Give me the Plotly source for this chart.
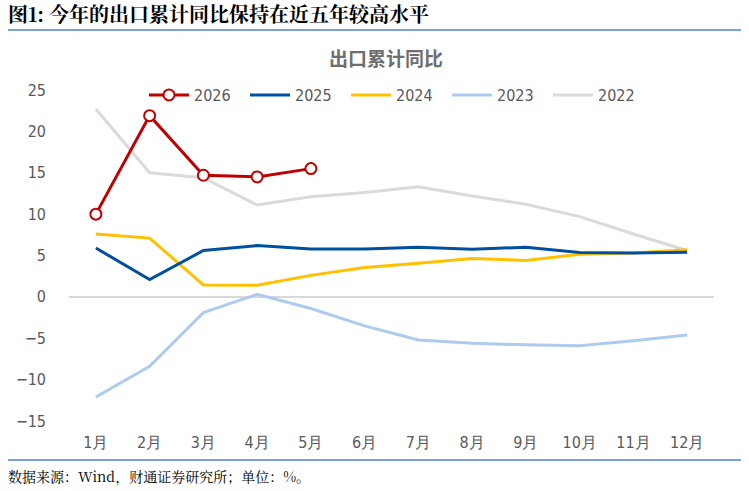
import plotly.graph_objects as go

months = ["1月", "2月", "3月", "4月", "5月", "6月", "7月", "8月", "9月", "10月", "11月", "12月"]
y2026 = [10.0, 21.9, 14.7, 14.5, 15.5]
y2025 = [5.9, 2.1, 5.6, 6.2, 5.8, 5.8, 6.0, 5.75, 6.0, 5.35, 5.3, 5.4]
y2024 = [7.6, 7.1, 1.45, 1.4, 2.6, 3.55, 4.05, 4.65, 4.4, 5.15, 5.3, 5.7]
y2023 = [-12.1, -8.4, -1.9, 0.3, -1.4, -3.5, -5.2, -5.6, -5.8, -5.9, -5.3, -4.6]
y2022 = [22.7, 15.0, 14.4, 11.1, 12.1, 12.6, 13.3, 12.2, 11.2, 9.7, 7.6, 5.6]
yticks = [-15, -10, -5, 0, 5, 10, 15, 20, 25]

W, H = 749, 491
L, R, T, B = 69, 35, 90, 70
ph = H - T - B
pw = W - L - R

fig = go.Figure()
fig.add_trace(go.Scatter(x=months, y=y2022, name="2022", mode="lines", line=dict(color="#D9DADC", width=3)))
fig.add_trace(go.Scatter(x=months, y=y2023, name="2023", mode="lines", line=dict(color="#AECBEF", width=3)))
fig.add_trace(go.Scatter(x=months, y=y2024, name="2024", mode="lines", line=dict(color="#FFC000", width=3)))
fig.add_trace(go.Scatter(x=months, y=y2025, name="2025", mode="lines", line=dict(color="#0050A0", width=3)))
fig.add_trace(go.Scatter(x=months[:len(y2026)], y=y2026, name="2026", mode="lines+markers",
                         line=dict(color="#C00000", width=3),
                         marker=dict(size=11, color="white", line=dict(color="#C00000", width=2))))

tickfont = dict(family="Liberation Sans Narrow, DejaVu Sans Condensed, Arial", size=16, color="#595959")

fig.update_layout(
    width=W, height=H,
    margin=dict(l=L, r=R, t=T, b=B),
    paper_bgcolor="white", plot_bgcolor="white",
    showlegend=True,
    legend=dict(orientation="h", x=(144 - L) / pw, xanchor="left", y=1 - (95 - T) / ph, yanchor="middle",
                font=tickfont, bgcolor="rgba(0,0,0,0)", traceorder="reversed",
                itemwidth=40, entrywidthmode="pixels", entrywidth=46, tracegroupgap=0),
    xaxis=dict(type="category", categoryorder="array", categoryarray=months, range=[-0.5, 11.5],
               showgrid=False, zeroline=False, showline=False, ticks="", tickfont=tickfont,
               ticklabelstandoff=10),
    yaxis=dict(range=[-15, 25], tickvals=yticks, showgrid=False, zeroline=True, zerolinecolor="#D9D9D9",
               zerolinewidth=1.5, showline=False, ticks="", tickfont=tickfont, ticklabelstandoff=22),
    annotations=[
        dict(text="<b>图1: 今年的出口累计同比保持在近五年较高水平</b>", xref="paper", yref="paper",
             x=-(L - 6) / pw, y=1 + (T - 14) / ph, xanchor="left", yanchor="middle", showarrow=False,
             font=dict(family="Noto Serif CJK SC, Noto Sans CJK SC", size=20, color="black")),
        dict(text="<b>出口累计同比</b>", xref="paper", yref="paper",
             x=(386 - L) / pw, y=1 + (T - 58) / ph, xanchor="center", yanchor="middle", showarrow=False,
             font=dict(family="Noto Sans CJK SC", size=19, color="#6E6E6E")),
        dict(text="数据来源：Wind，财通证券研究所；单位：%。", xref="paper", yref="paper",
             x=-(L - 6) / pw, y=-(476 - (H - B)) / ph, xanchor="left", yanchor="middle", showarrow=False,
             font=dict(family="Noto Serif CJK SC, Noto Sans CJK SC", size=14, color="black")),
    ],
    shapes=[
        dict(type="line", xref="paper", yref="paper", x0=-(L - 8) / pw, x1=1 + (R - 8) / pw,
             y0=1 + (T - 30) / ph, y1=1 + (T - 30) / ph, line=dict(color="#4F86C6", width=1.5)),
        dict(type="line", xref="paper", yref="paper", x0=-(L - 8) / pw, x1=1 + (R - 8) / pw,
             y0=-(460 - (H - B)) / ph, y1=-(460 - (H - B)) / ph, line=dict(color="#4F86C6", width=1.5)),
    ],
)

fig.write_html("out.html")
